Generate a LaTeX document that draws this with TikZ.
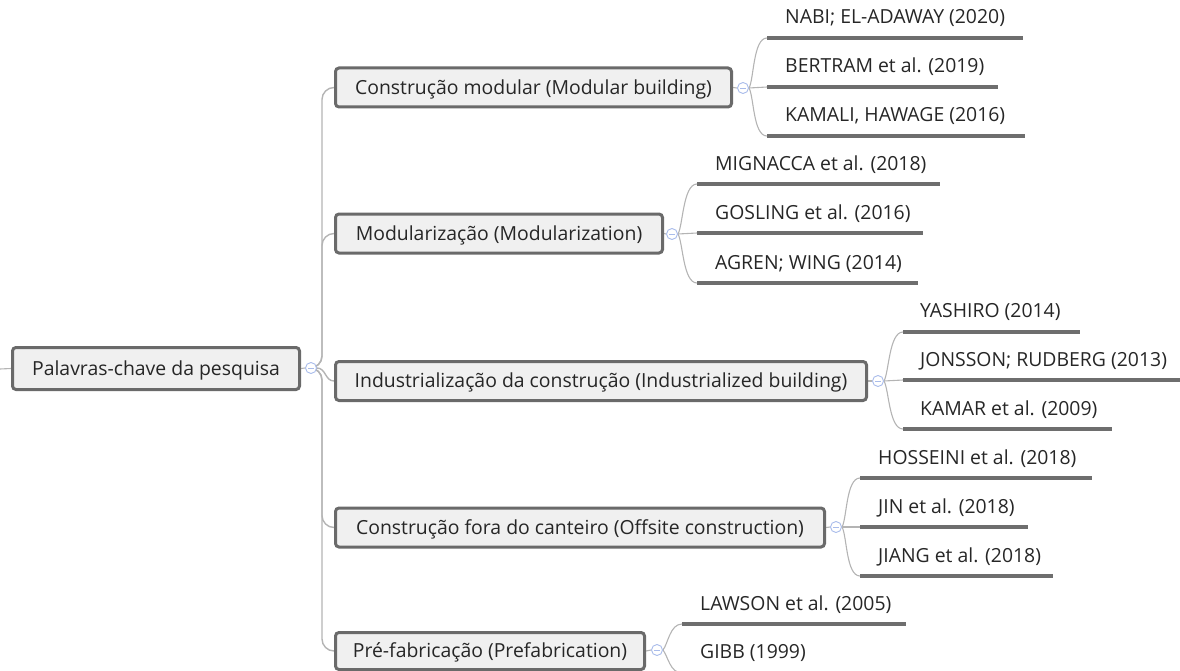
\documentclass[tikz,border=0pt]{standalone}
\usepackage{fontspec}
\setmainfont{Open Sans}
\definecolor{boxfill}{HTML}{F0F0F0}
\definecolor{boxline}{HTML}{6A6A6A}
\definecolor{connc}{HTML}{B4B4B4}
\definecolor{ulinec}{HTML}{6E6E6E}
\definecolor{txt}{HTML}{262626}
\definecolor{knobc}{HTML}{A9BCEB}
\pgfdeclarelayer{bg}
\pgfsetlayers{bg,main}
\begin{document}
\begin{tikzpicture}[x=1pt,y=-1pt,
  topic/.style={draw=boxline, line width=3pt, fill=boxfill, rounded corners=3.5pt,
    inner sep=0pt, text=txt, font=\fontsize{19.4}{22}\selectfont,
    text height=13.8pt, text depth=0pt, minimum height=39pt},
  knob/.style={circle, draw=knobc, fill=white, line width=0.9pt, minimum size=11pt,
    inner sep=0pt, path picture={\draw[knobc, line width=0.9pt]
      ([xshift=-3pt]path picture bounding box.center) --
      ([xshift=3pt]path picture bounding box.center);}},
  leaf/.style={anchor=base west, inner sep=0pt, text=txt, font=\fontsize{19.4}{22}\selectfont},
  uline/.style={draw=ulinec, line width=3.5pt},
  branch/.style={draw=connc, line width=1.4pt, rounded corners=12pt},
  twig/.style={draw=connc, line width=1.1pt},
]
\useasboundingbox (0,0) rectangle (1180,671);
\clip (0,0) rectangle (1180,671);

% main topics
\node[topic, minimum width=287pt, minimum height=42pt] (root) at (156,368.5) {Palavras-chave da pesquisa};
\node[topic, minimum width=396pt] (b1) at (533.5,87.5) {Construção modular (Modular building)};
\node[topic, minimum width=327pt] (b2) at (499,233.5) {Modularização (Modularization)};
\node[topic, minimum width=531pt] (b3) at (601,381) {Industrialização da construção (Industrialized building)};
\node[topic, minimum width=489pt] (b4) at (580,527.5) {Construção fora do canteiro (Offsite construction)};
\node[topic, minimum width=309pt, minimum height=37pt] (b5) at (490,651) {Pré-fabricação (Prefabrication)};

% collapse knobs
\node[knob] (rk) at (311,368) {};
\node[knob] (k1) at (743,88) {};
\node[knob] (k2) at (672,234) {};
\node[knob] (k3) at (878,381) {};
\node[knob] (k4) at (836,527) {};
\node[knob] (k5) at (657,650) {};

% references under each topic
\node[leaf] (n11) at (785,24) {NABI; EL-ADAWAY (2020)};
\node[leaf] (n12) at (785,73) {BERTRAM et al. (2019)};
\node[leaf] (n13) at (785,122) {KAMALI, HAWAGE (2016)};
\node[leaf] (n21) at (715,171) {MIGNACCA et al. (2018)};
\node[leaf] (n22) at (715,219) {GOSLING et al. (2016)};
\node[leaf] (n23) at (715,269) {AGREN; WING (2014)};
\node[leaf] (n31) at (920,317) {YASHIRO (2014)};
\node[leaf] (n32) at (920,366) {JONSSON; RUDBERG (2013)};
\node[leaf] (n33) at (920,415) {KAMAR et al. (2009)};
\node[leaf] (n41) at (878,464) {HOSSEINI et al. (2018)};
\node[leaf] (n42) at (878,513) {JIN et al. (2018)};
\node[leaf] (n43) at (878,562) {JIANG et al. (2018)};
\node[leaf] (n51) at (700,610) {LAWSON et al. (2005)};
\node[leaf] (n52) at (700,658) {GIBB (1999)};

% underline end points
\coordinate (u11a) at (767,38);  \coordinate (u11b) at (1023,38);
\coordinate (u12a) at (767,87);  \coordinate (u12b) at (998,87);
\coordinate (u13a) at (767,136); \coordinate (u13b) at (1025,136);
\coordinate (u21a) at (697,184); \coordinate (u21b) at (940,184);
\coordinate (u22a) at (697,233); \coordinate (u22b) at (923,233);
\coordinate (u23a) at (697,283); \coordinate (u23b) at (918,283);
\coordinate (u31a) at (903,332); \coordinate (u31b) at (1080,332);
\coordinate (u32a) at (903,380); \coordinate (u32b) at (1182,380);
\coordinate (u33a) at (903,429); \coordinate (u33b) at (1112,429);
\coordinate (u41a) at (860,478); \coordinate (u41b) at (1092,478);
\coordinate (u42a) at (860,527); \coordinate (u42b) at (1028,527);
\coordinate (u43a) at (860,576); \coordinate (u43b) at (1053,576);
\coordinate (u51a) at (682,624); \coordinate (u51b) at (906,624);
\coordinate (u52a) at (682,673); \coordinate (u52b) at (800,673);

\coordinate (stub) at (0,369);
\coordinate (tx) at (322,0);

\begin{pgfonlayer}{bg}
  % trunk from the central topic
  \draw[twig] (stub) -- (root.west);
  \draw[twig] (root.east) -- (rk.west);
  \draw[branch] (rk.east) -| (tx |- b1.west) -- (b1.west);
  \draw[branch] (rk.east) -| (tx |- b2.west) -- (b2.west);
  \draw[twig, line width=1.4pt] (rk.east) .. controls +(9,0) and +(-9,0) .. (b3.west);
  \draw[branch] (rk.east) -| (tx |- b4.west) -- (b4.west);
  \draw[branch] (rk.east) -| (tx |- b5.west) -- (b5.west);

  % topic to knob
  \foreach \b/\k in {b1/k1,b2/k2,b3/k3,b4/k4,b5/k5}
    \draw[twig] (\b.east) -- (\k.west);

  % brackets to the references
  \foreach \k/\g in {k1/1,k2/2,k3/3,k4/4}{
    \draw[twig] (\k.east) .. controls +(5,-8) and +(-14,0) .. (u\g1a);
    \draw[twig] (\k.east) -- (u\g2a);
    \draw[twig] (\k.east) .. controls +(5,8) and +(-14,0) .. (u\g3a);
  }
  \draw[twig] (k5.east) .. controls +(5,-6) and +(-12,0) .. (u51a);
  \draw[twig] (k5.east) .. controls +(5,6) and +(-12,0) .. (u52a);
\end{pgfonlayer}

% underlines
\foreach \u in {11,12,13,21,22,23,31,32,33,41,42,43,51,52}
  \draw[uline] (u\u a) -- (u\u b);
\end{tikzpicture}
\end{document}
